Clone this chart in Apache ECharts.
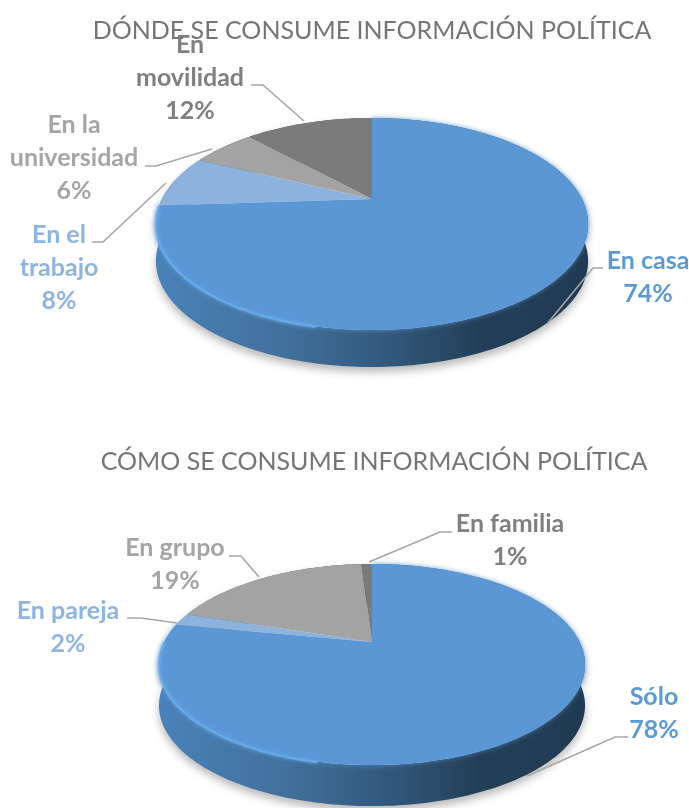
<!DOCTYPE html>
<html>
<head>
<meta charset="utf-8">
<style>
    html,body{margin:0;padding:0;background:#fff;}
    #main{width:689px;height:808px;}
</style>
<script src="https://cdn.jsdelivr.net/npm/echarts@6/dist/echarts.min.js"></script>
</head>
<body>
<div id="main"></div>
<script>
// data
var dondeCategories = ['En casa', 'En el\ntrabajo', 'En la\nuniversidad', 'En\nmovilidad'];
var dondeValues = [74, 8, 6, 12];
var comoCategories = ['Sólo', 'En pareja', 'En grupo', 'En familia'];
var comoValues = [78, 2, 19, 1];
var sliceColors = ['#5b97d5', '#8eb2de', '#a3a3a3', '#7b7b7b'];
var labelColors = ['#5b9bd5', '#8db4e2', '#a5a5a5', '#7f7f7f'];

// perspective of each pie: apex, half width, vertical factor, tilt, rim depth
var dondeShape = {cx: 372, cy: 199, a: 210, b: 100.1, d: -0.236, depth: 37};
var comoShape = {cx: 372, cy: 642, a: 207.6, b: 95.5, d: -0.224, depth: 41};

// label centres (first line) and leader lines
var dondeLabels = [
    {x: 648, y: 261, line: [[603, 268], [593, 268], [547, 324]]},
    {x: 59, y: 235, line: [[92, 242], [103, 242], [166, 183]]},
    {x: 74, y: 125, line: [[145, 166], [156, 166], [212, 149]]},
    {x: 190, y: 45, line: [[251, 85], [263, 85], [304, 121]]}
];
var comoLabels = [
    {x: 654, y: 697, line: [[628, 737], [615, 737], [527, 776]]},
    {x: 68, y: 611, line: [[127, 618], [141, 618], [177, 623]]},
    {x: 175, y: 548, line: [[229, 556], [241, 556], [259, 577]]},
    {x: 510, y: 524, line: [[452, 532], [440, 532], [369, 562]]}
];

function project(s, theta){
    var u = Math.sin(theta), v = -Math.cos(theta);
    var w = 1 + s.d * v;
    return [s.cx + s.a * u / w, s.cy + s.b * v / w];
}

function arcPoints(s, from, to, dy){
    var pts = [], n = Math.max(2, Math.ceil((to - from) / 0.02));
    for(var i = 0; i <= n; i++){
        var p = project(s, from + (to - from) * i / n);
        pts.push([p[0], p[1] + (dy || 0)]);
    }
    return pts;
}

function sliceAngles(values, idx){
    var total = 0, before = 0;
    values.forEach(function(v, i){
        total += v;
        if(i < idx) before += v;
    });
    return [before / total * Math.PI * 2, (before + values[idx]) / total * Math.PI * 2];
}

// rim of the pie, goes under the top faces
function wallSeries(values, s){
    return {
        type: 'custom',
        coordinateSystem: 'none',
        silent: true,
        z: 1,
        data: values,
        renderItem: function(params){
            var ang = sliceAngles(values, params.dataIndex);
            var top = arcPoints(s, ang[0], ang[1], 0);
            var bottom = arcPoints(s, ang[0], ang[1], s.depth).reverse();
            var x0 = s.cx - s.a * 1.03, x1 = s.cx + s.a * 1.03;
            return {
                type: 'polygon',
                shape: {points: top.concat(bottom)},
                style: {
                    fill: new echarts.graphic.LinearGradient(x0, 0, x1, 0, [
                        {offset: 0, color: '#4a82b8'},
                        {offset: 0.3, color: '#41709c'},
                        {offset: 0.55, color: '#31577a'},
                        {offset: 0.75, color: '#233f58'},
                        {offset: 1, color: '#203a52'}
                    ], true),
                    shadowColor: 'rgba(0,0,0,0.28)',
                    shadowBlur: 9,
                    shadowOffsetY: 5
                }
            };
        }
    };
}

function topSeries(values, s){
    return {
        type: 'custom',
        coordinateSystem: 'none',
        silent: true,
        z: 2,
        data: values,
        renderItem: function(params){
            var i = params.dataIndex;
            var ang = sliceAngles(values, i);
            var pts = [[s.cx, s.cy]].concat(arcPoints(s, ang[0], ang[1], 0));
            var children = [{
                type: 'polygon',
                shape: {points: pts},
                style: {
                    fill: sliceColors[i],
                    shadowColor: i === 0 ? 'rgba(90,150,210,0.8)' : 'transparent',
                    shadowBlur: i === 0 ? 5 : 0
                }
            }];
            if(i === 0){
                // light bevel on the lower left edge
                children.push({
                    type: 'polyline',
                    shape: {points: arcPoints(s, 3.35, Math.min(ang[1], 4.72), 0.5)},
                    style: {
                        fill: 'none', stroke: '#69adec', lineWidth: 2.5, opacity: 0.75,
                        shadowColor: '#69adec', shadowBlur: 4
                    }
                });
            }
            return {type: 'group', children: children};
        }
    };
}

function labelSeries(values, categories, layout){
    return {
        type: 'custom',
        coordinateSystem: 'none',
        silent: true,
        z: 3,
        data: values,
        renderItem: function(params, api){
            var i = params.dataIndex, l = layout[i];
            var text = categories[i] + '\n' + api.value(0) + '%';
            var lines = text.split('\n');
            var children = [{
                type: 'polyline',
                shape: {points: l.line},
                style: {fill: 'none', stroke: '#a6a6a6', lineWidth: 1.6}
            }];
            lines.forEach(function(t, k){
                children.push({
                    type: 'text',
                    style: {
                        x: l.x,
                        y: l.y + k * 33,
                        text: t,
                        fill: labelColors[i],
                        font: 'bold 25px Lato',
                        textAlign: 'center',
                        textVerticalAlign: 'middle'
                    }
                });
            });
            return {type: 'group', children: children};
        }
    };
}

var myChart = echarts.init(document.getElementById('main'));
myChart.setOption({
    animation: false,
    backgroundColor: '#fff',
    title: [
        {
            text: 'DÓNDE SE CONSUME INFORMACIÓN POLÍTICA',
            left: 367, top: 13, textAlign: 'center',
            textStyle: {color: '#757575', fontFamily: 'Lato', fontWeight: 'normal', fontSize: 25}
        },
        {
            text: 'CÓMO SE CONSUME INFORMACIÓN POLÍTICA',
            left: 369, top: 444, textAlign: 'center',
            textStyle: {color: '#757575', fontFamily: 'Lato', fontWeight: 'normal', fontSize: 25}
        }
    ],
    series: [
        wallSeries(dondeValues, dondeShape),
        topSeries(dondeValues, dondeShape),
        labelSeries(dondeValues, dondeCategories, dondeLabels),
        wallSeries(comoValues, comoShape),
        topSeries(comoValues, comoShape),
        labelSeries(comoValues, comoCategories, comoLabels)
    ]
});
</script>
</body>
</html>
